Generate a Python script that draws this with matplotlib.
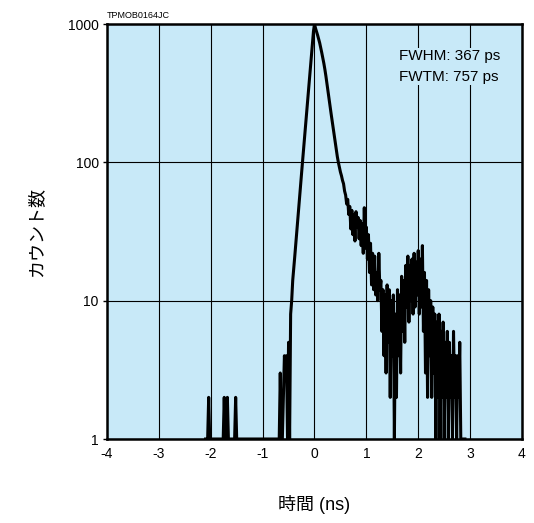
import numpy as np
import matplotlib
matplotlib.use("Agg")
import matplotlib.pyplot as plt

plt.rcParams['font.family'] = ['Liberation Sans', 'Noto Sans CJK JP', 'DejaVu Sans']

# time axis (ns), 0.02 ns bins from -2.10 to 2.90
t_start = -2.10
t_step = 0.02

# counts (zero counts drawn at the bottom, 1)
counts = [
    1, 1, 1, 2, 1, 1, 1, 1, 1, 1,          # -2.10
    1, 1, 1, 1, 1, 1, 1, 1, 2, 1,          # -1.90
    1, 2, 1, 1, 1, 1, 1, 1, 1, 2,          # -1.70
    1, 1, 1, 1, 1, 1, 1, 1, 1, 1,          # -1.50
    1, 1, 1, 1, 1, 1, 1, 1, 1, 1,          # -1.30
    1, 1, 1, 1, 1, 1, 1, 1, 1, 1,          # -1.10
    1, 1, 1, 1, 1, 1, 1, 1, 1, 1,          # -0.90
    1, 1, 3, 1, 1, 2, 4, 3, 4, 1,          # -0.70
    5, 1, 8, 10, 14, 17, 21, 26, 32, 40,   # -0.50
    49, 61, 75, 92, 113, 139, 171, 209, 257, 316,   # -0.30
    388, 477, 586, 720, 884, 1000, 930, 880, 830, 780,  # -0.10
    730, 670, 620, 570, 520, 470, 420, 370, 330, 290,   # 0.10
    255, 225, 200, 180, 160, 140, 125, 110, 100, 92,    # 0.30
    85, 80, 74, 70, 62, 58, 50, 54, 42, 48,  # 0.50
    33, 45, 30, 42, 27, 44, 34, 40, 28, 38,  # 0.70
    25, 36, 22, 47, 24, 34, 20, 30, 16, 26,  # 0.90
    13, 22, 12, 21, 11, 16, 10, 22, 12, 14,  # 1.10
    6, 12, 4, 11, 3, 13, 5, 12, 2, 10,       # 1.30
    4, 11, 1, 8, 2, 12, 4, 11, 3, 15,        # 1.50
    6, 14, 5, 18, 9, 21, 7, 18, 10, 20,      # 1.70
    8, 22, 9, 19, 11, 23, 8, 20, 9, 25,      # 1.90
    6, 16, 3, 14, 2, 12, 4, 10, 2, 9,        # 2.10
    3, 8, 1, 7, 2, 8, 1, 6, 2, 7,            # 2.30
    1, 5, 2, 6, 1, 5, 2, 4, 1, 6,            # 2.50
    2, 4, 1, 4, 2, 5, 1, 1, 1, 1,            # 2.70
    1,                                       # 2.90
]
t_ns = t_start + t_step * np.arange(len(counts))

x_ticks = [-4, -3, -2, -1, 0, 1, 2, 3, 4]
y_ticks = [1, 10, 100, 1000]
y_ticklabels = ['1', '10', '100', '1000']

bg = '#c8e9f8'

fig = plt.figure(figsize=(5.34, 5.23), dpi=100)
ax = fig.add_axes([0.2004, 0.1606, 0.7771, 0.7935])
ax.set_facecolor(bg)

ax.plot(t_ns, counts, color='black', linewidth=2.2, zorder=3)

ax.set_yscale('log')
ax.set_xlim(-4, 4)
ax.set_ylim(1, 1000)
ax.set_xticks(x_ticks)
ax.set_xticklabels([str(v) for v in x_ticks])
ax.set_yticks(y_ticks)
ax.set_yticklabels(y_ticklabels)
ax.minorticks_off()
ax.tick_params(axis='x', length=0, pad=6, labelsize=10)
ax.tick_params(axis='y', length=3, width=1, pad=3, labelsize=10)
ax.grid(True, color='black', linewidth=0.8)
ax.set_axisbelow(True)
for s in ax.spines.values():
    s.set_linewidth(1.8)

ax.set_xlabel('時間 (ns)', fontsize=13, labelpad=24)
ax.set_ylabel('カウント数', fontsize=13, labelpad=16)

ax.text(0.704, 0.94, 'FWHM: 367 ps\nFWTM: 757 ps', transform=ax.transAxes,
        ha='left', va='top', fontsize=11, linespacing=1.6, zorder=4,
        bbox=dict(facecolor=bg, edgecolor='none', pad=1))
fig.text(0.2004, 0.962, 'TPMOB0164JC', fontsize=6.5, ha='left', va='bottom')

fig.savefig('out.png', dpi=100)
